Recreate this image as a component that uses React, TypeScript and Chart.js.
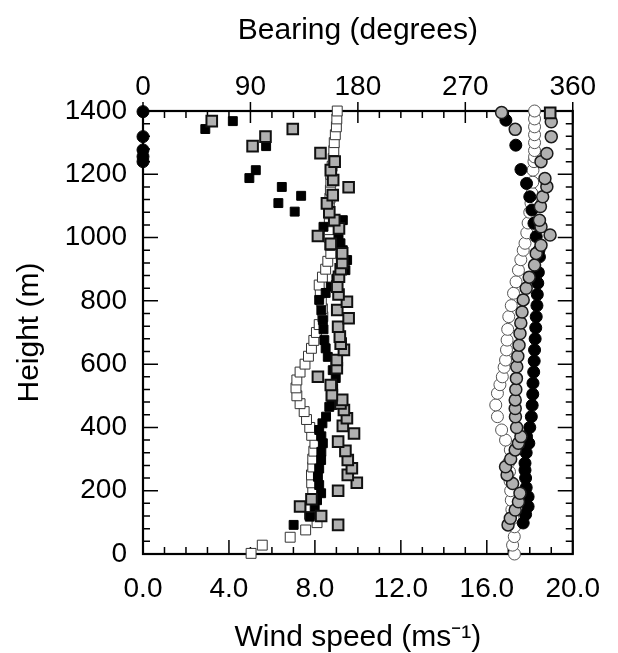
import React, { useEffect, useRef } from 'react';
import { Chart, registerables } from 'chart.js';
Chart.register(...registerables);

// ---- Wind speed (bottom axis, m/s) vs height (m) : squares ----
const openSqHeight = [2, 28, 53, 76, 99, 125, 150, 175, 200, 225, 250, 275, 300, 325, 350, 375, 400, 425, 450, 475, 500, 525, 550, 575, 600, 625, 650, 675, 700, 725, 750, 775, 800, 825, 850, 875, 900, 925, 950, 975, 1000, 1025, 1050, 1075, 1100, 1125, 1150, 1175, 1200, 1225, 1250, 1275, 1300, 1325, 1350, 1375, 1400];
const openSqSpeed = [5.03, 5.55, 6.85, 7.57, 8.1, 7.75, 7.8, 7.85, 7.9, 7.85, 7.84, 7.9, 7.9, 7.95, 8.0, 7.85, 7.76, 7.61, 7.5, 7.31, 7.16, 7.12, 7.16, 7.31, 7.54, 7.7, 7.84, 7.95, 8.07, 8.2, 8.37, 8.35, 8.3, 8.25, 8.2, 8.35, 8.5, 8.6, 8.74, 8.7, 8.67, 8.67, 8.67, 8.67, 8.67, 8.7, 8.72, 8.74, 8.74, 8.8, 8.85, 8.88, 8.9, 8.95, 9.0, 9.02, 9.04];

const blackSqHeight = [92, 118, 150, 170, 192, 218, 244, 270, 297, 323, 350, 372, 392, 413, 434, 465, 471, 497, 525, 556, 581, 623, 650, 676, 710, 739, 770, 803, 825, 845, 870, 897, 929, 960, 982, 1008, 1034, 1055, 1082, 1109, 1132, 1160, 1188, 1213, 1289, 1343, 1368];
const blackSqSpeed = [7.01, 7.76, 7.99, 8.1, 8.29, 8.2, 8.14, 8.2, 8.29, 8.3, 8.37, 8.3, 8.2, 8.35, 8.52, 8.67, 8.8, 8.74, 8.85, 8.97, 8.83, 8.6, 8.5, 8.44, 8.4, 8.37, 8.3, 8.2, 8.5, 8.74, 9.0, 9.42, 9.5, 9.3, 9.19, 9.1, 8.4, 9.3, 7.06, 6.3, 7.36, 6.46, 4.95, 5.25, 5.73, 2.9, 4.18];

const greySqHeight = [92, 120, 150, 173, 200, 225, 250, 271, 297, 326, 355, 381, 405, 429, 455, 476, 487, 502, 534, 560, 587, 613, 645, 665, 687, 718, 745, 771, 797, 820, 845, 876, 900, 920, 950, 980, 1005, 1029, 1055, 1080, 1108, 1134, 1159, 1182, 1213, 1240, 1267, 1289, 1319, 1343, 1368, 1394];
const greySqSpeed = [9.08, 8.29, 7.31, 7.84, 9.08, 9.95, 9.53, 9.72, 9.53, 9.42, 9.08, 9.82, 9.3, 9.49, 9.35, 9.19, 9.27, 8.79, 8.74, 8.14, 9.02, 9.02, 9.35, 9.2, 9.16, 9.08, 9.57, 9.04, 9.49, 9.1, 9.04, 9.12, 9.2, 9.27, 9.27, 8.74, 8.14, 9.12, 8.9, 8.67, 8.56, 8.83, 9.57, 8.85, 8.74, 8.92, 8.26, 5.1, 5.7, 6.97, 3.2, 18.95];

// ---- Bearing (top axis, degrees) vs height (m) : circles ----
const openCircHeight = [0, 28, 55, 86, 113, 140, 170, 200, 230, 260, 290, 329, 360, 392, 434, 471, 508, 535, 560, 590, 613, 645, 676, 710, 750, 785, 824, 860, 897, 930, 960, 982, 1015, 1046, 1080, 1109, 1140, 1175, 1213, 1240, 1255, 1275, 1300, 1325, 1350, 1375, 1400];
const openCircBearing = [311.2, 309.6, 311, 311.2, 310, 309, 308.5, 308, 307.5, 307, 306.5, 307.7, 303.7, 300.4, 296.9, 295.5, 296.9, 299, 301, 302.5, 303.7, 304.5, 305, 305.5, 306.4, 308.5, 310.4, 312.5, 314.5, 316.5, 318.5, 320, 321.5, 322.6, 324, 325, 325.8, 326.5, 326.7, 327.5, 328, 328, 328, 328, 328, 328, 328];

const blackCircHeight = [98, 125, 150, 181, 210, 240, 265, 287, 320, 350, 371, 400, 434, 470, 505, 540, 575, 610, 645, 680, 715, 750, 785, 820, 856, 890, 939, 960, 1003, 1045, 1087, 1129, 1171, 1215, 1292, 1371, 1240, 1256, 1277, 1319, 1398];
const blackCircBearing = [318.5, 320.5, 322.6, 322.6, 321, 320.5, 320, 320, 321, 323.2, 321.3, 324, 325.3, 326, 326.5, 326.7, 327.3, 327.7, 328, 328.5, 329, 329.4, 330, 330.3, 330.7, 331.2, 332.1, 331.7, 329.4, 327.5, 325.8, 324, 321.3, 316.6, 312.3, 304, 0, 0, 0, 0, 0];

const greyCircHeight = [92, 113, 139, 165, 192, 223, 250, 276, 300, 329, 350, 371, 400, 434, 460, 487, 520, 555, 592, 625, 660, 697, 730, 765, 803, 840, 875, 913, 950, 976, 1008, 1034, 1055, 1098, 1129, 1161, 1187, 1240, 1266, 1319, 1342, 1366, 1395];
const greyCircBearing = [305.8, 307.7, 311.8, 314.5, 315.8, 309.6, 305, 303.7, 308, 311.8, 314.5, 316.6, 313, 312, 311.8, 311.8, 312.3, 312.8, 313.1, 314, 315, 315.8, 316.5, 317.5, 318.5, 321, 323.5, 328, 329.4, 333.4, 341, 333.4, 332.1, 332.9, 334.8, 338.3, 336.7, 333.4, 338.3, 342, 311.8, 342, 300.4];

const speedTicks = [0, 4, 8, 12, 16, 20];
const bearingTicks = [0, 90, 180, 270, 360];
const heightTicks = [0, 200, 400, 600, 800, 1000, 1200, 1400];

const zip = (xs: number[], ys: number[]) => xs.map((x, i) => ({ x, y: ys[i] }));

const FONT = '"Liberation Sans", Arial, sans-serif';

const framePlugin = {
  id: 'frame',
  beforeDatasetsDraw(chart: any) {
    const { ctx, chartArea: a, scales } = chart;
    const xs = scales.x, xt = scales.x2, ys = scales.y;
    ctx.save();
    ctx.strokeStyle = '#000';
    ctx.lineWidth = 1.5;
    ctx.beginPath();
    // bottom: minor every 1, major every 4
    for (let v = 0; v <= 20; v += 1) {
      const p = xs.getPixelForValue(v);
      const len = v % 4 === 0 ? 14 : 7;
      ctx.moveTo(p, a.bottom); ctx.lineTo(p, a.bottom - len);
    }
    // top: minor every 18, major every 90
    for (let v = 0; v <= 360; v += 18) {
      const p = xt.getPixelForValue(v);
      if (v % 90 === 0) { ctx.moveTo(p, a.top - 9); ctx.lineTo(p, a.top + 12); }
      else { ctx.moveTo(p, a.top); ctx.lineTo(p, a.top + 7); }
    }
    // left & right: minor every 40, major every 200
    for (let v = 0; v <= 1400; v += 40) {
      const p = ys.getPixelForValue(v);
      const len = v % 200 === 0 ? 15 : 7;
      ctx.moveTo(a.left, p); ctx.lineTo(a.left + len, p);
      ctx.moveTo(a.right, p); ctx.lineTo(a.right - len, p);
    }
    ctx.stroke();
    ctx.lineWidth = 2.2;
    ctx.strokeRect(a.left, a.top, a.right - a.left, a.bottom - a.top);
    ctx.restore();
  },
};

export default function App() {
  const ref = useRef<HTMLCanvasElement>(null);
  useEffect(() => {
    const sq = (data: any, bg: string, border: string, r: number, bw: number, order: number) => ({
      data, xAxisID: 'x', yAxisID: 'y', pointStyle: 'rect', pointRadius: r, pointHoverRadius: r,
      backgroundColor: bg, borderColor: border, borderWidth: bw, order, clip: false, showLine: false,
    });
    const ci = (data: any, bg: string, border: string, r: number, bw: number, order: number) => ({
      data, xAxisID: 'x2', yAxisID: 'y', pointStyle: 'circle', pointRadius: r, pointHoverRadius: r,
      backgroundColor: bg, borderColor: border, borderWidth: bw, order, clip: false, showLine: false,
    });
    const tickFont = { family: FONT, size: 28 };
    const titleFont = { family: FONT, size: 30, lineHeight: 1 };
    const chart = new Chart(ref.current!, {
      type: 'scatter',
      data: {
        datasets: [
          ci(zip(openCircBearing, openCircHeight), '#ffffff', '#555555', 6, 1, 6),
          ci(zip(blackCircBearing, blackCircHeight), '#000000', '#000000', 6, 1, 5),
          ci(zip(greyCircBearing, greyCircHeight), '#b0b0b0', '#1a1a1a', 6, 1.5, 4),
          sq(zip(openSqSpeed, openSqHeight), '#ffffff', '#333333', 7, 1, 3),
          sq(zip(blackSqSpeed, blackSqHeight), '#000000', '#000000', 6.3, 1, 2),
          sq(zip(greySqSpeed, greySqHeight), '#b0b0b0', '#111111', 7.5, 2, 1),
        ] as any,
      },
      options: {
        animation: false,
        responsive: false,
        layout: { padding: { left: 0, right: 32, top: 0, bottom: 0 } },
        plugins: { legend: { display: false }, tooltip: { enabled: false } },
        scales: {
          x: {
            type: 'linear', position: 'bottom', min: 0, max: 20,
            afterBuildTicks: (s: any) => { s.ticks = speedTicks.map((v) => ({ value: v })); },
            ticks: { font: tickFont, color: '#000', padding: 18, maxRotation: 0, callback: (v: any) => Number(v).toFixed(1) },
            grid: { display: false, drawTicks: false, tickLength: 0 },
            border: { display: false },
            title: { display: true, text: 'Wind speed (ms⁻¹)', font: titleFont, color: '#000', padding: { top: 0, bottom: 0 } },
            afterFit: (s: any) => { s.height = 99; },
          },
          x2: {
            type: 'linear', position: 'top', min: 0, max: 360,
            afterBuildTicks: (s: any) => { s.ticks = bearingTicks.map((v) => ({ value: v })); },
            ticks: { font: tickFont, color: '#000', padding: 7, maxRotation: 0, callback: (v: any) => String(v) },
            grid: { display: false, drawTicks: false, tickLength: 0 },
            border: { display: false },
            title: { display: true, text: 'Bearing (degrees)', font: titleFont, color: '#000', padding: { top: 16, bottom: 0 } },
            afterFit: (s: any) => { s.height = 111; },
          },
          y: {
            type: 'linear', position: 'left', min: 0, max: 1400,
            afterBuildTicks: (s: any) => { s.ticks = heightTicks.map((v) => ({ value: v })); },
            ticks: { font: tickFont, color: '#000', padding: 16, callback: (v: any) => String(v) },
            grid: { display: false, drawTicks: false, tickLength: 0 },
            border: { display: false },
            title: { display: true, text: 'Height (m)', font: titleFont, color: '#000', padding: { top: 15, bottom: 0 } },
            afterFit: (s: any) => { s.width = 143; },
          },
        },
      } as any,
      plugins: [framePlugin],
    });
    return () => chart.destroy();
  }, []);
  return (
    <div style={{ position: 'absolute', left: 0, top: 0, width: 618, height: 653, background: '#fff' }}>
      <canvas ref={ref} width={618} height={653} style={{ width: 618, height: 653, display: 'block' }} />
    </div>
  );
}
